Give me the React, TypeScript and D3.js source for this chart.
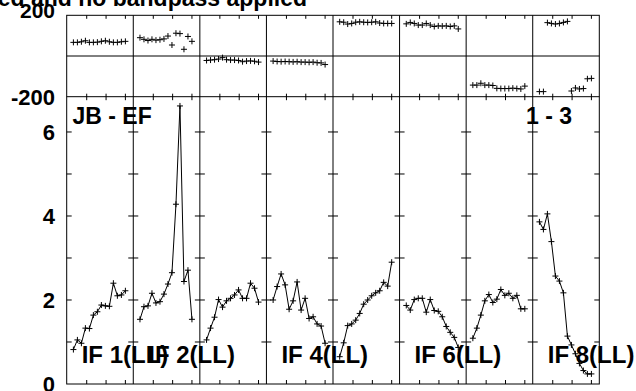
import React from "react";
import * as d3 from "d3";

// ---- data ----
const ifLabels = ["IF 1(LL)", "IF 2(LL)", "IF 3(LL)", "IF 4(LL)", "IF 5(LL)", "IF 6(LL)", "IF 7(LL)", "IF 8(LL)"];
const shownLabels = [0, 1, 3, 5, 7];
const channels = [1, 2, 3, 4, 5, 6, 7, 8, 9, 10, 11, 12, 13, 14];
const xTickChannels = [4.33, 9.17, 14.0];
const ampTicks = [1, 2, 3, 4, 5, 6];
const ampLabels = [0, 2, 4, 6];
const phaseLabels = [200, -200];

const amp1 = [0.82, 1.05, 0.97, 1.33, 1.32, 1.64, 1.72, 1.88, 1.86, 1.85, 2.4, 2.1, 2.12, 2.22];
const amp2 = [1.54, 1.84, 1.86, 2.16, 1.93, 1.96, 2.14, 2.38, 2.65, 4.28, 6.62, 2.44, 2.71, 1.54];
const amp3 = [1.05, 1.33, 1.59, 2.01, 1.83, 1.98, 2.04, 2.12, 2.24, 2.04, 2.04, 2.4, 2.28, 1.95];
const amp4 = [2.0, 2.32, 2.62, 2.36, 1.78, 1.98, 2.43, 1.76, 2.04, 1.56, 1.6, 1.43, 1.38, 0.97];
const amp5 = [0.65, 0.98, 1.39, 1.43, 1.52, 1.68, 1.9, 2.0, 2.1, 2.17, 2.22, 2.42, 2.33, 2.9];
const amp6 = [1.87, 1.76, 2.01, 2.04, 2.04, 1.71, 2.01, 1.75, 1.73, 1.6, 1.37, 1.23, 1.11, 0.87];
const amp7 = [1.09, 1.33, 1.64, 1.98, 2.13, 1.94, 2.02, 2.25, 2.11, 2.16, 2.04, 2.11, 1.79, 1.79];
const amp8 = [3.86, 3.68, 4.05, 3.39, 2.57, 2.45, 2.17, 1.14, 0.93, 0.72, 0.49, 0.32, 0.24, 0.24];

const ph1 = [67, 67, 70, 75, 67, 67, 68, 72, 75, 70, 67, 67, 70, 72];
const ph2 = [90, 82, 76, 82, 78, 80, 84, 98, 54, 112, 110, 33, 96, 72];
const ph3 = [-22, -20, -18, -15, -8, -18, -20, -20, -22, -28, -25, -24, -26, -30];
const ph4 = [-25, -27, -28, -27, -28, -29, -28, -30, -30, -31, -30, -33, -34, -42];
const ph5 = [168, 166, 157, 160, 166, 168, 166, 165, 166, 168, 162, 160, 160, 160];
const ph6 = [158, 165, 160, 152, 152, 160, 152, 145, 148, 147, 148, 145, 148, 133];
const ph7 = [-143, -143, -134, -143, -143, -145, -159, -160, -160, -160, -158, -160, -162, -148];
const ph8 = [-175, -175, 164, 160, 157, 160, 165, 170, -172, -157, -162, -160, -112, -110];

const amps = [amp1, amp2, amp3, amp4, amp5, amp6, amp7, amp8];
const phases = [ph1, ph2, ph3, ph4, ph5, ph6, ph7, ph8];

const titleText = "ed and no bandpass applied";
const baselineText = "JB - EF";
const pageText = "1 - 3";

// ---- layout ----
const W = 636, H = 391;
const L = 66.7, R = 599.3, T = 15.3, M = 96.7, B = 384;
const FONT = "'Liberation Sans', Arial, Helvetica, sans-serif";

export default function App() {
  const n = amps.length;
  const pw = (R - L) / n;
  const yA = d3.scaleLinear().domain([0, 6.84]).range([B, M]);
  const yP = d3.scaleLinear().domain([-200, 200]).range([M, T]);
  const xFor = (i: number) =>
    d3.scaleLinear().domain([-0.675, 15.975]).range([L + i * pw, L + (i + 1) * pw]);
  const cross = (x: number, y: number, k: string) => (
    <path key={k} d={`M${x - 3},${y}H${x + 3}M${x},${y - 3}V${y + 3}`} stroke="#000" strokeWidth={1} fill="none" />
  );

  return (
    <svg width={W} height={H} style={{ position: "fixed", left: 0, top: 0, background: "#fff" }}>
      <rect x={0} y={0} width={W} height={H} fill="#fff" />
      <text x={307} y={6} textAnchor="end" fontFamily={FONT} fontWeight="bold" fontSize={23}>{titleText}</text>

      {/* frames */}
      <rect x={L} y={T} width={R - L} height={B - T} fill="none" stroke="#000" strokeWidth={1} />
      <line x1={L} x2={R} y1={M} y2={M} stroke="#000" />
      <line x1={L} x2={R} y1={yP(0)} y2={yP(0)} stroke="#000" />
      {d3.range(1, n).map((i) => (
        <line key={"v" + i} x1={L + i * pw} x2={L + i * pw} y1={T} y2={B} stroke="#000" />
      ))}

      {/* x ticks */}
      {d3.range(n).map((i) => {
        const x = xFor(i);
        return xTickChannels.map((c, j) => (
          <g key={`xt${i}-${j}`} stroke="#000">
            <line x1={x(c)} x2={x(c)} y1={T} y2={T + 3.5} />
            <line x1={x(c)} x2={x(c)} y1={M - 3} y2={M + 3.5} />
            <line x1={x(c)} x2={x(c)} y1={B} y2={B - 4} />
          </g>
        ));
      })}

      {/* y ticks amplitude */}
      {d3.range(n + 1).map((i) => {
        const x0 = L + i * pw;
        return ampTicks.map((v) => (
          <line
            key={`yt${i}-${v}`}
            x1={i === 0 ? x0 : x0 - 5}
            x2={i === n ? x0 : x0 + 5}
            y1={yA(v)}
            y2={yA(v)}
            stroke="#000"
          />
        ));
      })}

      {/* labels */}
      {ampLabels.map((v) => (
        <text key={"al" + v} x={55} y={yA(v)} dy="0.36em" textAnchor="end" fontFamily={FONT} fontWeight="bold" fontSize={22}>
          {v}
        </text>
      ))}
      {phaseLabels.map((v) => (
        <text
          key={"pl" + v}
          x={55}
          y={v > 0 ? yP(v) + 2.2 : yP(v)}
          dy={v > 0 ? "0" : "0.36em"}
          textAnchor="end"
          fontFamily={FONT}
          fontWeight="bold"
          fontSize={v > 0 ? 21 : 22}
        >
          {v}
        </text>
      ))}

      {/* data */}
      {d3.range(n).map((i) => {
        const x = xFor(i);
        const line = d3
          .line<number>()
          .x((_, k) => x(channels[k]))
          .y((d) => yA(d));
        return (
          <g key={"d" + i}>
            <path d={line(amps[i]) || ""} fill="none" stroke="#000" strokeWidth={1} />
            {amps[i].map((v, k) => cross(x(channels[k]), yA(v), `a${i}-${k}`))}
            {phases[i].map((v, k) => cross(x(channels[k]), yP(v), `p${i}-${k}`))}
          </g>
        );
      })}

      <text x={72.5} y={124.3} fontFamily={FONT} fontWeight="bold" fontSize={23}>{baselineText}</text>
      <text x={526} y={124.3} fontFamily={FONT} fontWeight="bold" fontSize={23}>{pageText}</text>
      {shownLabels.map((i) => (
        <text key={"if" + i} x={L + i * pw + 15} y={363.3} fontFamily={FONT} fontWeight="bold" fontSize={24}>
          {ifLabels[i]}
        </text>
      ))}
    </svg>
  );
}
